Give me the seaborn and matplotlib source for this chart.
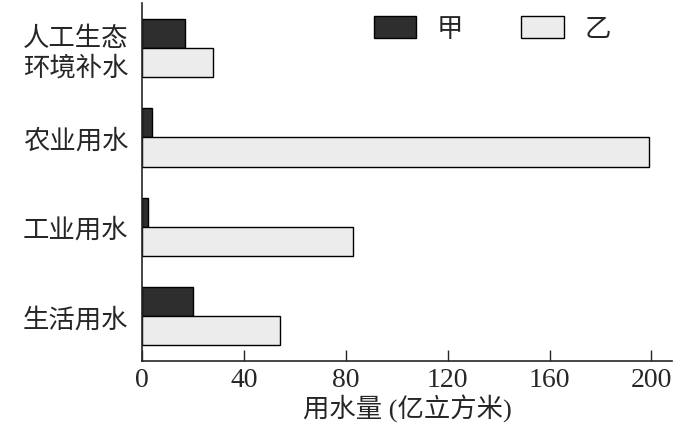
import pandas as pd
import matplotlib.pyplot as plt
import seaborn as sns

categories = ['人工生态\n环境补水', '农业用水', '工业用水', '生活用水']
jia = [17, 4, 2.5, 20]
yi = [28, 199, 83, 54]

data = pd.DataFrame({
    'cat': categories * 2,
    'val': jia + yi,
    'grp': ['甲'] * 4 + ['乙'] * 4,
})

sns.set_style('ticks')
plt.rcParams['font.family'] = ['Liberation Serif', 'Noto Sans CJK SC']

fig = plt.figure(figsize=(6.8, 4.31), dpi=100)
ax = fig.add_axes([0.209, 0.16, 0.779, 0.83])
sns.barplot(data=data, y='cat', x='val', hue='grp', orient='h',
            palette={'甲': '#2e2e2e', '乙': '#ececec'}, edgecolor='black',
            linewidth=1, width=0.65, ax=ax)

ax.set_xlim(0, 208)
ax.set_xticks([0, 40, 80, 120, 160, 200])
ax.tick_params(axis='x', direction='in', length=8, labelsize=20, width=1, pad=4)
ax.tick_params(axis='y', length=0, labelsize=19, pad=10)
for t in ax.get_yticklabels():
    t.set_linespacing(1.25)
ax.set_xlabel('用水量 (亿立方米)', fontsize=19, labelpad=2)
ax.set_ylabel('')
for s in ['top', 'right']:
    ax.spines[s].set_visible(False)
ax.spines['left'].set_linewidth(1.2)
ax.spines['bottom'].set_linewidth(1.2)

ax.legend(loc='upper right', ncol=2, frameon=False, fontsize=19,
          handlelength=1.6, handleheight=0.9, columnspacing=2.2,
          bbox_to_anchor=(0.93, 1.03))

fig.savefig('out.png', dpi=100)
